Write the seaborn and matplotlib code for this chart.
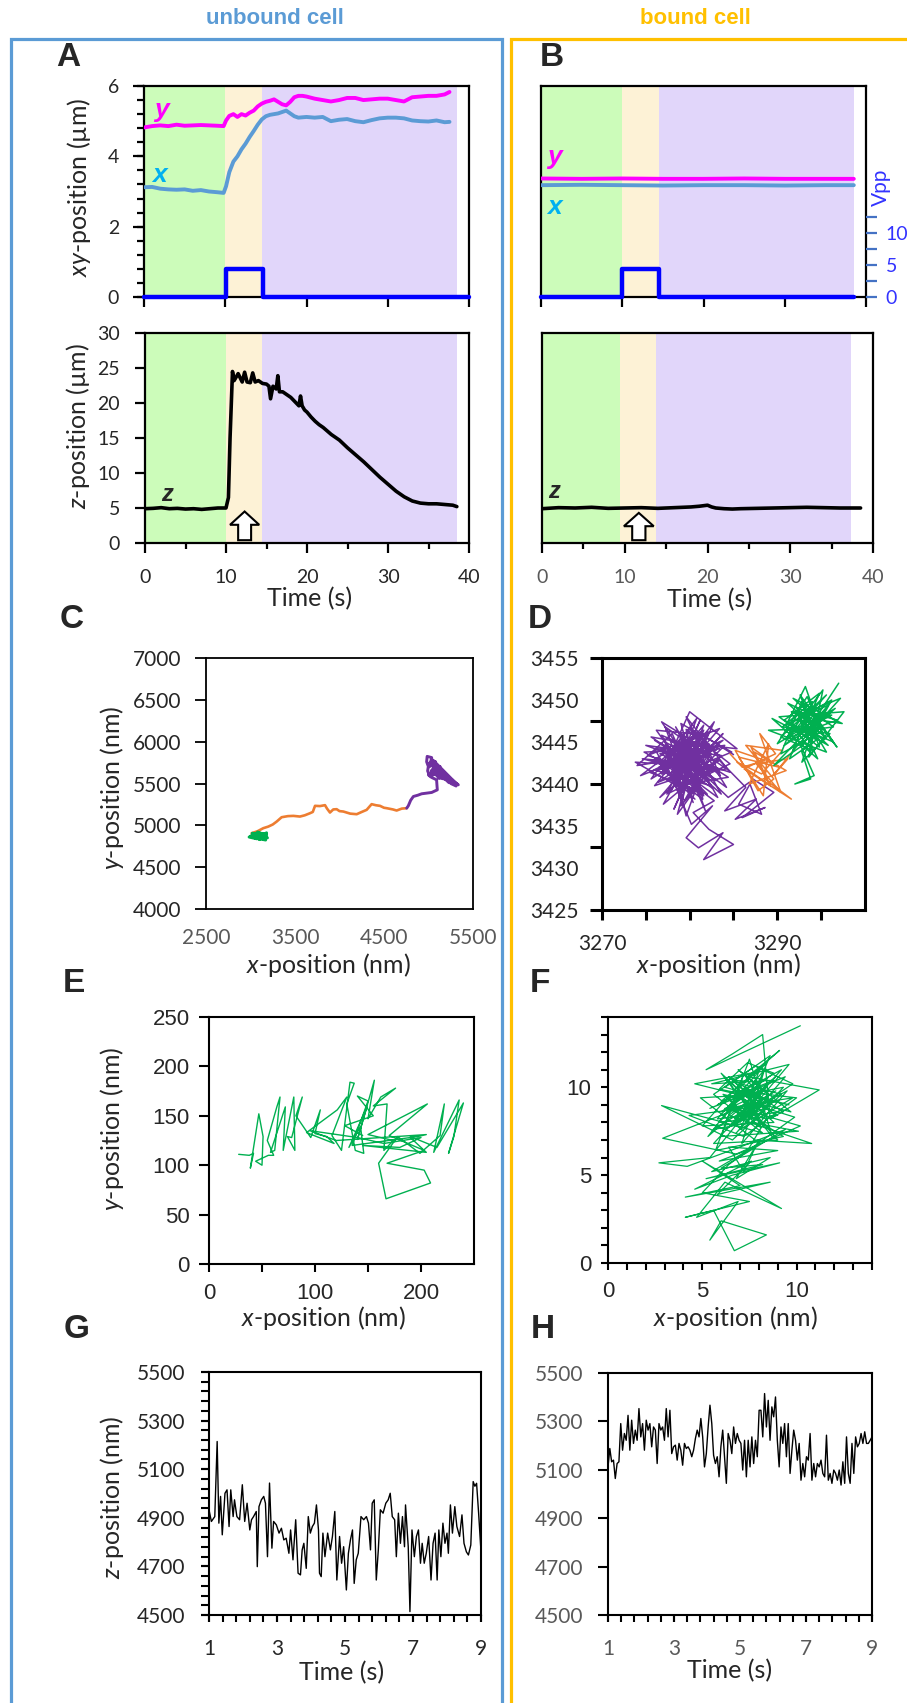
import numpy as np
import matplotlib
matplotlib.use("Agg")
import matplotlib.pyplot as plt
import seaborn as sns
from matplotlib.lines import Line2D
from matplotlib.patches import FancyArrow
from matplotlib.ticker import MultipleLocator, FixedLocator

# ---------------- data ----------------
# Panel A: unbound cell, xy traces (µm) vs time (s)
a_t = [0.0, 1, 2, 3, 4, 5, 6, 7, 8, 9, 9.8, 10.1, 10.5, 11, 11.5, 12, 12.5, 13, 13.5, 14,
       14.5, 15, 15.5, 16, 16.5, 17, 17.5, 18, 18.5, 19, 19.5, 20, 21, 22, 23, 24, 25, 26, 27, 28,
       29, 30, 31, 32, 33, 34, 35, 36, 37, 37.6]
a_y = [4.82, 4.86, 4.88, 4.86, 4.90, 4.87, 4.88, 4.89, 4.88, 4.87,
       4.86, 5.02, 5.15, 5.20, 5.12, 5.20, 5.16, 5.24, 5.30, 5.42,
       5.50, 5.55, 5.58, 5.62, 5.55, 5.48, 5.45, 5.55, 5.68, 5.72,
       5.72, 5.70, 5.64, 5.60, 5.56, 5.60, 5.66, 5.66, 5.60, 5.62,
       5.64, 5.64, 5.60, 5.56, 5.68, 5.70, 5.72, 5.72, 5.76, 5.83]
a_x = [3.12, 3.13, 3.08, 3.06, 3.05, 3.06, 3.02, 3.04, 3.00, 2.98,
       2.96, 3.15, 3.55, 3.85, 4.00, 4.20, 4.36, 4.55, 4.72, 4.90,
       5.05, 5.14, 5.18, 5.20, 5.22, 5.26, 5.30, 5.22, 5.14, 5.10,
       5.11, 5.12, 5.10, 5.12, 5.00, 5.04, 5.06, 5.00, 4.97, 5.03,
       5.08, 5.10, 5.10, 5.08, 5.02, 5.00, 4.99, 5.02, 4.97, 4.98]
a_pulse_t = [0, 10.1, 10.1, 14.6, 14.6, 40]
a_pulse_v = [0, 0, 4.4, 4.4, 0, 0]
a_phases = [0, 10, 14.5, 38.5]
a_zt = [0, 1, 2, 3, 4, 5, 6, 7, 8, 9, 10, 10.3, 10.5, 10.8, 11, 11.5, 12, 12.3, 12.6, 13,
        13.3, 13.6, 14, 14.5, 15, 15.3, 15.5, 15.8, 16.2, 16.4, 16.6, 17, 17.5, 18, 18.5, 19, 19.2, 19.4, 19.7, 20,
        20.5, 21, 21.5, 22, 22.5, 23, 23.5, 24, 25, 26, 27, 28, 29, 30, 31, 32, 33, 34, 35, 36,
        37, 38, 38.5]
a_z = [4.9, 4.95, 5.05, 4.9, 4.95, 4.85, 4.9, 4.8, 4.9, 5.0,
       5.0, 6.5, 15.0, 24.5, 23.2, 24.2, 23.0, 24.4, 23.0, 22.9,
       24.3, 23.0, 23.2, 22.8, 22.7, 22.4, 20.6, 22.4, 22.0, 23.9,
       21.6, 21.6, 21.2, 20.8, 20.2, 19.6, 21.0, 19.6, 19.0, 18.7,
       18.0, 17.4, 16.9, 16.5, 16.0, 15.5, 15.1, 14.7, 13.6, 12.6,
       11.6, 10.5, 9.4, 8.4, 7.4, 6.6, 6.0, 5.7, 5.6, 5.6,
       5.5, 5.4, 5.2]

# Panel B: bound cell
b_t = [0, 5, 10, 15, 20, 25, 30, 35, 38.5]
b_y = [3.37, 3.36, 3.37, 3.36, 3.36, 3.37, 3.36, 3.36, 3.36]
b_x = [3.18, 3.19, 3.18, 3.17, 3.18, 3.18, 3.17, 3.18, 3.18]
b_pulse_t = [0, 10, 10, 14.5, 14.5, 38.5]
b_pulse_v = [0, 0, 4.4, 4.4, 0, 0]
b_phases_top = [0, 10, 14.5, 38.5]
b_phases_bot = [0, 9.4, 13.8, 37.3]
b_zt = [0, 2, 4, 6, 8, 10, 12, 14, 16, 18, 19, 20, 20.5, 21, 22, 23, 24, 26, 28, 30, 32, 34, 36, 38.5]
b_z = [4.9, 5.05, 5.0, 5.1, 4.95, 5.0, 5.05, 4.95, 5.05, 5.15, 5.25, 5.4, 5.15, 5.0, 4.9, 4.85,
       4.9, 4.95, 5.0, 5.05, 5.1, 5.05, 5.0, 5.0]

# Panel C: unbound xy trajectory (nm)
c_green = [(3000, 4870), (3060, 4905), (3120, 4850), (3180, 4910), (3100, 4830), (3040, 4880),
           (3160, 4870), (3080, 4920), (3190, 4850), (3130, 4895), (2985, 4860), (3070, 4840),
           (3150, 4900), (3110, 4870), (3050, 4850), (3170, 4825), (3090, 4890), (3020, 4905),
           (3140, 4840), (3060, 4870), (3180, 4885), (3100, 4910)]
c_orange = [(3013, 4906), (3080, 4930), (3144, 4966), (3200, 4985), (3250, 5010), (3294, 5045),
            (3350, 5097), (3420, 5110), (3481, 5113), (3556, 5105), (3610, 5120), (3669, 5145),
            (3700, 5160), (3725, 5233), (3780, 5230), (3837, 5241), (3860, 5200), (3893, 5153),
            (3930, 5190), (3968, 5193), (4000, 5170), (4043, 5165), (4120, 5140), (4193, 5133),
            (4250, 5160), (4305, 5185), (4361, 5253), (4410, 5240), (4455, 5233), (4500, 5210),
            (4530, 5205), (4600, 5190), (4642, 5177), (4700, 5200), (4755, 5205)]
c_purple = [(4755, 5205), (4773, 5233), (4800, 5300), (4830, 5345), (4880, 5360), (4923, 5377),
            (4980, 5385), (5036, 5393), (5070, 5410), (5099, 5424), (5095, 5480), (5091, 5544),
            (5040, 5570), (5017, 5584), (4990, 5650), (4998, 5704), (4979, 5760), (4985, 5824),
            (5036, 5810), (5010, 5700), (5080, 5760), (5060, 5620), (5129, 5704), (5100, 5600),
            (5160, 5650), (5204, 5584), (5150, 5560), (5250, 5540), (5300, 5500), (5335, 5484),
            (5280, 5530), (5200, 5600), (5120, 5560), (5050, 5650), (5000, 5600), (5100, 5680),
            (5180, 5620), (5240, 5520), (5320, 5490), (5050, 5780), (5020, 5720), (5070, 5700),
            (5030, 5650), (5090, 5640), (5040, 5600), (5110, 5620), (5150, 5580), (5090, 5700),
            (5060, 5760), (5000, 5740), (5120, 5660), (5180, 5560), (5230, 5510), (5270, 5540),
            (5310, 5470), (5250, 5500)]

# Panel D: bound xy trajectory (nm)
d_green = [(3297.0, 3452.0), (3293.2, 3446.0), (3295.8, 3449.4), (3291.4, 3447.2), (3296.4, 3445.0),
           (3292.6, 3450.6), (3294.8, 3444.4), (3290.2, 3448.0), (3297.6, 3448.6), (3293.6, 3443.2),
           (3295.2, 3451.2), (3291.0, 3445.4), (3296.8, 3447.6), (3292.2, 3449.0), (3294.4, 3446.6),
           (3289.0, 3446.4), (3295.6, 3443.8), (3293.0, 3448.4), (3297.2, 3450.2), (3291.8, 3444.0),
           (3294.0, 3449.8), (3290.6, 3446.8), (3296.0, 3446.0), (3292.8, 3442.6), (3294.6, 3448.0),
           (3291.2, 3449.6), (3295.4, 3445.6), (3293.4, 3450.4), (3290.0, 3444.8), (3296.6, 3449.0),
           (3292.4, 3445.2), (3294.2, 3441.0), (3292.0, 3440.0), (3293.8, 3440.6), (3292.8, 3443.8),
           (3295.0, 3447.0), (3291.6, 3448.6), (3296.2, 3448.2), (3293.0, 3446.4), (3294.8, 3450.8),
           (3290.8, 3447.6), (3295.8, 3444.6), (3292.6, 3447.8), (3294.4, 3445.2), (3291.4, 3443.0),
           (3293.6, 3448.8), (3296.4, 3446.8), (3292.2, 3446.2), (3294.0, 3444.0), (3290.4, 3445.6),
           (3295.6, 3450.6), (3291.6, 3446.0), (3294.2, 3448.2), (3296.8, 3444.4), (3292.8, 3449.8),
           (3290.4, 3443.6), (3295.0, 3446.2), (3293.2, 3451.6), (3291.0, 3447.0), (3296.2, 3450.0),
           (3293.8, 3445.4), (3289.4, 3447.8), (3294.6, 3443.0), (3292.4, 3448.0), (3297.4, 3447.2),
           (3291.8, 3450.2), (3294.8, 3447.4), (3290.8, 3444.6), (3295.4, 3448.8), (3293.0, 3444.8),
           (3292.6, 3444.4), (3289.6, 3442.2), (3292.0, 3444.8)]
d_orange = [(3292.0, 3444.2), (3289.5, 3441.0), (3291.2, 3443.0), (3287.6, 3442.4), (3290.4, 3439.0),
            (3288.0, 3446.0), (3289.8, 3443.6), (3286.2, 3441.8), (3291.6, 3438.2), (3288.8, 3440.4),
            (3287.0, 3444.4), (3290.2, 3442.0), (3285.6, 3443.2), (3288.4, 3438.6), (3289.0, 3444.8),
            (3286.8, 3440.0), (3291.0, 3441.6), (3287.4, 3443.8), (3289.2, 3439.8), (3285.4, 3442.6),
            (3288.2, 3441.2), (3290.6, 3444.0), (3286.4, 3444.6), (3289.6, 3440.6), (3287.8, 3439.2),
            (3285.2, 3444.0), (3288.6, 3442.8), (3286.0, 3442.0), (3284.6, 3443.6)]
d_purple = [(3285.0, 3443.5), (3281.2, 3446.0), (3283.5, 3441.0), (3279.0, 3444.8), (3282.6, 3439.5),
            (3277.4, 3443.2), (3280.8, 3447.8), (3278.2, 3440.6), (3283.8, 3445.2), (3276.5, 3442.0),
            (3281.5, 3438.2), (3279.6, 3446.5), (3284.6, 3442.4), (3277.8, 3439.0), (3280.2, 3444.0),
            (3274.8, 3443.8), (3278.6, 3441.6), (3282.0, 3445.8), (3276.2, 3446.4), (3280.6, 3440.0),
            (3283.2, 3443.0), (3277.0, 3437.6), (3279.8, 3442.8), (3281.8, 3436.8), (3278.4, 3445.0),
            (3285.4, 3444.2), (3280.0, 3448.6), (3276.8, 3441.2), (3282.4, 3442.0), (3273.8, 3442.6),
            (3279.2, 3439.4), (3281.0, 3444.6), (3275.6, 3445.6), (3283.0, 3440.4), (3278.0, 3443.6),
            (3280.4, 3437.8), (3277.2, 3446.8), (3284.2, 3441.8), (3279.4, 3441.0), (3276.0, 3439.8),
            (3281.6, 3447.0), (3278.8, 3438.6), (3282.8, 3444.4), (3274.4, 3441.0), (3280.0, 3445.4),
            (3283.6, 3438.8), (3277.6, 3444.4), (3279.6, 3436.2), (3281.4, 3441.4), (3275.2, 3443.4),
            (3282.2, 3446.2), (3278.2, 3437.0), (3280.8, 3443.4), (3276.4, 3440.2), (3284.8, 3443.8),
            (3279.0, 3447.2), (3281.2, 3439.0), (3277.4, 3442.2), (3280.2, 3435.2), (3282.6, 3437.4),
            (3279.6, 3433.6), (3281.0, 3432.4), (3283.8, 3434.2), (3281.6, 3431.0), (3285.0, 3432.8),
            (3282.2, 3434.6), (3280.4, 3436.6), (3282.8, 3438.0), (3279.8, 3440.4), (3283.4, 3442.8),
            (3286.4, 3439.6), (3284.0, 3436.8), (3287.6, 3438.2), (3285.2, 3435.8), (3288.6, 3437.2),
            (3286.0, 3436.0), (3289.6, 3439.0), (3287.2, 3440.6), (3285.6, 3437.6), (3288.2, 3436.4),
            (3286.8, 3440.2), (3284.4, 3438.4), (3282.0, 3440.8), (3278.6, 3443.0), (3281.8, 3445.0),
            (3277.0, 3441.8), (3280.6, 3446.0), (3283.0, 3444.0), (3276.0, 3444.2), (3279.4, 3438.0),
            (3282.4, 3443.6), (3274.0, 3442.2), (3278.0, 3446.0), (3280.0, 3441.4), (3276.6, 3438.4),
            (3283.4, 3446.6), (3279.2, 3444.8), (3281.4, 3442.6), (3277.8, 3445.2), (3284.4, 3440.8),
            (3278.4, 3439.8), (3280.8, 3444.2), (3275.4, 3441.4), (3282.0, 3438.8), (3279.0, 3442.0),
            (3276.8, 3445.8), (3281.2, 3443.8), (3278.6, 3441.2), (3277.2, 3445.0), (3283.0, 3441.6),
            (3275.8, 3442.8), (3281.6, 3446.4), (3278.8, 3439.2), (3284.0, 3444.6), (3276.6, 3443.6),
            (3280.4, 3441.8), (3282.8, 3447.4), (3277.6, 3440.4), (3281.0, 3445.6), (3279.0, 3437.4),
            (3283.6, 3443.4), (3275.0, 3444.6), (3280.6, 3442.4), (3278.4, 3446.8), (3282.4, 3439.8),
            (3276.2, 3441.6), (3281.8, 3443.2), (3279.6, 3448.0), (3284.6, 3441.4), (3277.0, 3444.0),
            (3280.2, 3439.0), (3282.2, 3444.8), (3275.6, 3440.6), (3279.2, 3445.8), (3283.2, 3438.4),
            (3278.0, 3442.4), (3281.4, 3440.2), (3276.8, 3447.4), (3280.8, 3444.8), (3278.6, 3436.4),
            (3282.6, 3442.2), (3274.6, 3443.0), (3279.8, 3441.6), (3283.8, 3446.0), (3277.4, 3438.8),
            (3281.2, 3447.6), (3279.4, 3443.4), (3276.0, 3445.2), (3282.0, 3441.2), (3278.2, 3444.2),
            (3284.2, 3439.6), (3280.0, 3446.6), (3277.8, 3441.0), (3281.6, 3438.6), (3279.0, 3445.4),
            (3283.4, 3444.2), (3276.4, 3442.6), (3280.6, 3438.2)]

# Panel E: unbound, first seconds (nm)
e_path = [(28, 111), (38, 110), (42, 112), (39, 97), (47, 152), (51, 129), (50, 100), (44, 104), (56, 110), (61, 110),
          (55, 125), (64, 159), (67, 169), (62, 115), (58, 113), (72, 159), (70, 115), (80, 169), (81, 115), (74, 129),
          (78, 128), (88, 169), (82, 150), (96, 128), (105, 156), (100, 132), (111, 129), (118, 122), (92, 133), (121, 156),
          (130, 169), (116, 130), (125, 115), (133, 184), (137, 183), (130, 162), (138, 115), (146, 112), (143, 139), (132, 118),
          (149, 159), (140, 126), (156, 186), (150, 147), (162, 169), (176, 178), (155, 160), (168, 162), (165, 115), (174, 125),
          (150, 131), (206, 162), (170, 130), (203, 115), (168, 102), (203, 95), (209, 82), (167, 66), (160, 102), (178, 129),
          (199, 112), (218, 130), (222, 162), (212, 113), (236, 166), (231, 129), (226, 112), (240, 163), (215, 118), (190, 129),
          (197, 129), (205, 131), (120, 125), (95, 135), (140, 128), (165, 122), (200, 128), (180, 118), (145, 120), (205, 113),
          (190, 128), (135, 120), (150, 165), (140, 170), (155, 150), (128, 140), (145, 130)]

# Panel F: bound, first seconds (nm)
f_path = [(10.2, 13.5), (5.2, 11.0), (6.6, 11.9), (8.2, 13.0), (8.6, 8.2), (11.2, 9.85), (7.4, 10.6), (9.1, 12.1), (6.0, 9.2), (8.8, 10.4),
          (5.5, 10.2), (9.6, 11.3), (7.0, 8.0), (8.0, 10.9), (4.6, 10.2), (7.6, 9.4), (6.4, 10.6), (9.3, 8.6), (5.8, 8.2), (8.4, 11.4),
          (6.8, 9.8), (10.0, 9.4), (7.2, 7.2), (4.3, 8.4), (8.6, 9.0), (6.2, 7.6), (9.8, 10.2), (7.8, 11.2), (5.6, 9.6), (8.2, 7.4),
          (2.84, 8.96), (6.6, 7.0), (9.2, 9.6), (7.0, 10.2), (5.0, 7.8), (8.8, 8.0), (6.0, 10.8), (7.6, 8.6), (10.2, 7.8), (6.8, 6.2),
          (2.9, 7.1), (7.4, 9.0), (9.0, 7.0), (5.6, 6.8), (8.0, 9.6), (4.9, 9.4), (7.8, 7.0), (10.8, 6.8), (6.4, 8.4), (8.4, 10.0),
          (5.4, 6.0), (2.7, 5.7), (4.2, 5.5), (7.0, 6.6), (9.4, 7.6), (6.0, 5.4), (8.2, 5.6), (5.2, 4.8), (9.1, 5.7), (6.6, 5.0),
          (4.6, 4.2), (7.6, 5.8), (5.8, 3.9), (8.6, 4.6), (4.1, 3.75), (7.0, 4.4), (5.0, 5.8), (9.2, 3.1), (6.2, 4.6), (4.7, 2.6),
          (6.9, 3.5), (5.4, 1.3), (6.0, 2.4), (8.4, 1.6), (6.7, 0.7), (5.6, 3.0), (4.1, 2.6), (7.5, 3.5), (5.0, 4.0), (6.4, 5.6),
          (9.9, 8.3), (7.2, 9.2), (6.0, 8.6), (8.8, 10.8), (7.4, 11.4), (5.9, 9.9), (9.0, 9.2), (6.6, 8.8), (8.0, 8.4), (7.0, 9.6),
          (9.6, 9.0), (6.2, 10.0), (8.6, 11.8), (7.8, 9.8), (5.4, 8.8), (9.4, 10.6), (6.8, 7.4), (8.2, 9.0), (7.2, 10.8), (6.0, 7.2),
          (10.1, 7.5), (7.6, 8.0), (5.6, 7.6), (8.9, 9.8), (7.0, 8.4), (6.4, 9.4), (9.3, 10.0), (7.4, 7.8), (8.4, 8.8), (6.6, 10.4),
          (7.9, 10.3), (5.8, 9.0), (9.2, 11.0), (6.5, 7.8), (8.5, 9.6), (6.9, 11.0), (9.7, 8.6), (6.1, 9.6), (8.1, 7.7), (7.3, 10.0),
          (5.3, 7.2), (8.9, 10.6), (6.7, 8.2), (9.5, 9.8), (7.1, 6.8), (8.3, 11.0), (5.9, 8.0), (9.0, 8.4), (7.7, 9.2), (6.3, 10.4),
          (8.7, 7.2), (7.5, 11.6), (5.7, 6.4), (9.3, 7.2), (6.6, 9.0), (8.0, 10.0), (7.0, 7.6), (9.8, 9.4), (6.2, 8.8), (8.4, 8.2),
          (7.4, 6.4), (5.5, 5.2), (8.6, 6.0), (6.8, 4.8), (7.8, 6.6), (5.9, 5.8), (9.0, 6.4), (6.4, 6.6), (7.2, 5.2), (8.0, 7.0)]

# Panel G: unbound z (nm) vs time (s)
g_pts = [(1.00, 4933), (1.07, 4885), (1.17, 4905), (1.24, 5214), (1.29, 4878), (1.34, 4988), (1.39, 4830), (1.47, 5001), (1.53, 5015), (1.59, 4864),
         (1.64, 5015), (1.71, 4905), (1.75, 4974), (1.82, 4905), (1.90, 4892), (1.98, 5036), (2.05, 4885), (2.12, 4960), (2.20, 4850), (2.25, 4892),
         (2.31, 4905), (2.39, 4926), (2.42, 4699), (2.47, 4946), (2.54, 4974), (2.61, 4988), (2.66, 4960), (2.72, 4740), (2.78, 5043), (2.85, 4775),
         (2.90, 4885), (2.98, 4871), (3.06, 4837), (3.13, 4857), (3.20, 4809), (3.27, 4816), (3.35, 4754), (3.40, 4850), (3.47, 4727), (3.55, 4892),
         (3.62, 4672), (3.69, 4665), (3.74, 4768), (3.79, 4795), (3.86, 4692), (3.92, 4905), (3.98, 4837), (4.04, 4864), (4.10, 4878), (4.16, 4953),
         (4.22, 4850), (4.25, 4672), (4.30, 4658), (4.35, 4837), (4.41, 4740), (4.49, 4837), (4.57, 4768), (4.63, 4823), (4.70, 4926), (4.76, 4644),
         (4.84, 4823), (4.90, 4713), (4.96, 4781), (5.04, 4603), (5.10, 4754), (5.16, 4809), (5.22, 4850), (5.27, 4630), (5.33, 4727), (5.39, 4754),
         (5.47, 4905), (5.55, 4892), (5.63, 4905), (5.69, 4878), (5.75, 4768), (5.80, 4960), (5.86, 4974), (5.92, 4644), (5.98, 4768), (6.04, 4933),
         (6.12, 4919), (6.20, 4960), (6.27, 4974), (6.33, 5001), (6.39, 4905), (6.46, 4892), (6.51, 4740), (6.57, 4919), (6.63, 4795), (6.69, 4905),
         (6.75, 4781), (6.78, 4953), (6.86, 4781), (6.91, 4514), (6.97, 4850), (7.04, 4740), (7.10, 4823), (7.16, 4850), (7.22, 4713), (7.27, 4795),
         (7.33, 4713), (7.39, 4754), (7.46, 4823), (7.53, 4644), (7.59, 4795), (7.65, 4837), (7.71, 4644), (7.76, 4850), (7.82, 4740), (7.88, 4878),
         (7.94, 4795), (8.00, 4837), (8.04, 4754), (8.10, 4953), (8.16, 4837), (8.23, 4946), (8.29, 4864), (8.37, 4823), (8.44, 4912), (8.50, 4795),
         (8.57, 4760), (8.63, 4747), (8.70, 4788), (8.77, 5049), (8.82, 5030), (8.87, 5042), (8.93, 4919), (9.00, 4761)]

# Panel H: bound z (nm), evenly sampled from 1 s to 9 s
h_z = [5112, 5188, 5133, 5140, 5064, 5126, 5133, 5291, 5181, 5250,
       5222, 5325, 5181, 5305, 5209, 5264, 5222, 5353, 5236, 5291,
       5181, 5305, 5264, 5291, 5195, 5277, 5264, 5126, 5291, 5264,
       5277, 5222, 5353, 5236, 5346, 5167, 5195, 5202, 5140, 5209,
       5181, 5119, 5209, 5188, 5195, 5181, 5154, 5181, 5229, 5264,
       5236, 5312, 5236, 5112, 5167, 5277, 5367, 5291, 5160, 5126,
       5154, 5071, 5195, 5264, 5154, 5044, 5250, 5222, 5167, 5277,
       5209, 5250, 5222, 5209, 5099, 5222, 5071, 5222, 5112, 5236,
       5126, 5222, 5154, 5346, 5346, 5236, 5415, 5277, 5387, 5222,
       5360, 5319, 5401, 5222, 5112, 5277, 5209, 5291, 5154, 5291,
       5085, 5181, 5264, 5222, 5140, 5209, 5057, 5126, 5071, 5154,
       5140, 5250, 5057, 5126, 5071, 5126, 5112, 5140, 5085, 5071,
       5243, 5057, 5085, 5044, 5099, 5085, 5057, 5099, 5037, 5133,
       5044, 5236, 5085, 5044, 5209, 5085, 5236, 5195, 5209, 5250,
       5209, 5257, 5209, 5209, 5222, 5236]
h_t_range = (1, 9)

# ---------------- style ----------------
sns.set_theme(style="white")
plt.rcParams['font.family'] = ['Lato', 'DejaVu Sans']
plt.rcParams['mathtext.fontset'] = 'custom'
plt.rcParams['mathtext.rm'] = 'Lato'
plt.rcParams['mathtext.it'] = 'Lato:italic'
plt.rcParams['mathtext.bf'] = 'Lato:bold'
ARI = ['Liberation Sans', 'DejaVu Sans']

GREEN_BG, CREAM_BG, LAV_BG = '#CCFCBA', '#FDF2D6', '#E1D6FA'
MAG, XBLUE, PULSE = '#FF00FF', '#5B9BD5', '#0000FF'
CG, CO, CP = '#00B050', '#ED7D31', '#7030A0'
GRAY = '#595959'

W, H = 907, 1703
fig = plt.figure(figsize=(W / 100, H / 100), dpi=100)
fig.patch.set_facecolor('white')


def add_ax(l, t, r, b):
    ax = fig.add_axes([l / W, 1 - b / H, (r - l) / W, (b - t) / H])
    ax.set_facecolor('white')
    ax.grid(False)
    return ax


def ftext(x, y, s, **kw):
    kw.setdefault('ha', 'center')
    kw.setdefault('va', 'center')
    fig.text(x / W, 1 - y / H, s, **kw)


def fline(xs, ys, color, lw):
    fig.add_artist(Line2D([x / W for x in xs], [1 - y / H for y in ys], color=color, lw=lw,
                          solid_capstyle='butt', solid_joinstyle='miter'))


def setup(ax, lw=1.5):
    for s in ax.spines.values():
        s.set_visible(True)
        s.set_color('black')
        s.set_linewidth(lw)
    ax.tick_params(which='both', direction='out', color='black', width=lw,
                   top=False, right=False, bottom=False, left=False)
    ax.xaxis.remove_overlapping_locs = False
    ax.yaxis.remove_overlapping_locs = False


def line(ax, x, y, color, lw, **kw):
    sns.lineplot(x=np.asarray(x, float), y=np.asarray(y, float), ax=ax, color=color,
                 linewidth=lw, sort=False, estimator=None, **kw)
    ax.set_xlabel('')
    ax.set_ylabel('')


def path(ax, pts, color, lw):
    arr = np.asarray(pts, float)
    line(ax, arr[:, 0], arr[:, 1], color, lw)


def phases(ax, b):
    ax.axvspan(b[0], b[1], color=GREEN_BG, lw=0, zorder=0)
    ax.axvspan(b[1], b[2], color=CREAM_BG, lw=0, zorder=0)
    ax.axvspan(b[2], b[3], color=LAV_BG, lw=0, zorder=0)


def up_arrow(ax, x, y0, length):
    ax.add_patch(FancyArrow(x, y0, 0, length, width=1.6, head_width=3.6, head_length=1.9,
                            length_includes_head=True, fc='white', ec='black', lw=1.5, zorder=5))


lab_kw = dict(fontsize=18)
tl = 14

# ---------------- frames & titles ----------------
fline([11, 11, 502, 502], [1703, 39, 39, 1703], XBLUE, 2.3)
fline([511, 511, 907], [1703, 39, 39], '#FFC000', 2.3)
ftext(275, 18, 'unbound cell', color=XBLUE, fontsize=16, fontweight='bold', family=ARI)
ftext(695, 18, 'bound cell', color='#FFC000', fontsize=16, fontweight='bold', family=ARI)
for s, x, y in [('A', 68, 58), ('B', 552, 58), ('C', 72, 620), ('D', 540, 620),
                ('E', 74, 983), ('F', 540, 983), ('G', 77, 1330), ('H', 543, 1330)]:
    ftext(x, y, s, fontsize=24, fontweight='bold', family=ARI)

# ---------------- Panel A top ----------------
axA1 = add_ax(144, 86, 469, 297)
setup(axA1, 1.6)
phases(axA1, a_phases)
line(axA1, a_t, a_y, MAG, 2.8, zorder=3)
line(axA1, a_t, a_x, XBLUE, 2.8, zorder=3)
axA1.set_xlim(0, 40)
axA1.set_ylim(0, 6)
axA1.set_xticks([0, 10, 20, 30, 40], [''] * 5)
axA1.tick_params(axis='x', which='major', bottom=True, length=7)
axA1.set_yticks([0, 2, 4, 6], ['0', '2', '4', '6'], fontsize=tl)
axA1.yaxis.set_minor_locator(MultipleLocator(0.4))
axA1.tick_params(axis='y', which='major', left=True, length=8, pad=10)
axA1.tick_params(axis='y', which='minor', left=True, length=5)
axA1.text(2.2, 5.32, 'y', color=MAG, fontsize=19, fontweight='bold', fontstyle='italic',
          family=ARI, ha='center', va='center')
axA1.text(1.85, 3.47, 'x', color='#00B0F0', fontsize=19, fontweight='bold', fontstyle='italic',
          family=ARI, ha='center', va='center')
vA = axA1.twinx()
line(vA, a_pulse_t, a_pulse_v, PULSE, 3.2, clip_on=False, zorder=4)
vA.set_ylim(0, 33)
vA.set_yticks([])
for s in vA.spines.values():
    s.set_visible(False)
axA1.set_xlim(0, 40)
ftext(79, 187, r'$\mathit{xy}$-position (µm)', rotation=90, **lab_kw)

# ---------------- Panel A bottom ----------------
axA2 = add_ax(145, 333, 469, 543)
setup(axA2, 1.6)
phases(axA2, a_phases)
line(axA2, a_zt, a_z, 'black', 2.6, zorder=3)
axA2.set_xlim(0, 40)
axA2.set_ylim(0, 30)
axA2.set_xticks([0, 10, 20, 30, 40], ['0', '10', '20', '30', '40'], fontsize=tl)
axA2.xaxis.set_minor_locator(FixedLocator([5, 15, 25, 35]))
axA2.tick_params(axis='x', which='major', bottom=True, length=7, pad=12)
axA2.tick_params(axis='x', which='minor', bottom=True, length=4)
axA2.set_yticks(list(range(0, 31, 5)), [str(v) for v in range(0, 31, 5)], fontsize=tl)
axA2.tick_params(axis='y', which='major', left=True, length=7, pad=11)
up_arrow(axA2, 12.3, 0.4, 4.1)
axA2.text(2.7, 6.9, 'z', fontsize=17, fontweight='bold', fontstyle='italic', family=ARI,
          ha='center', va='center')
ftext(78, 426, r'$\mathit{z}$-position (µm)', rotation=90, **lab_kw)
ftext(310, 599, 'Time (s)', **lab_kw)

# ---------------- Panel B top ----------------
axB1 = add_ax(541, 86, 866, 297)
setup(axB1, 1.6)
phases(axB1, b_phases_top)
line(axB1, b_t, b_y, MAG, 2.8, zorder=3)
line(axB1, b_t, b_x, XBLUE, 2.8, zorder=3)
axB1.set_xlim(0, 40)
axB1.set_ylim(0, 6)
axB1.set_xticks([0, 10, 20, 30, 40], [''] * 5)
axB1.tick_params(axis='x', which='major', bottom=True, length=7)
axB1.set_yticks([])
axB1.text(1.7, 3.98, 'y', color=MAG, fontsize=19, fontweight='bold', fontstyle='italic',
          family=ARI, ha='center', va='center')
axB1.text(1.7, 2.56, 'x', color='#00B0F0', fontsize=19, fontweight='bold', fontstyle='italic',
          family=ARI, ha='center', va='center')
vB = axB1.twinx()
line(vB, b_pulse_t, b_pulse_v, PULSE, 3.2, clip_on=False, zorder=4)
vB.set_ylim(0, 33)
for s in vB.spines.values():
    s.set_visible(False)
vB.set_yticks([0, 5, 10], ['0', '5', '10'], fontsize=tl)
vB.yaxis.set_minor_locator(FixedLocator([2.5, 7.5, 12.5]))
vB.tick_params(axis='y', which='both', right=True, left=False, direction='out', length=8,
               width=1.6, color='#4472C4', labelcolor='#3333FF', pad=6)
axB1.set_xlim(0, 40)
ftext(881, 187, 'Vpp', rotation=90, color='#3333FF', fontsize=15)

# ---------------- Panel B bottom ----------------
axB2 = add_ax(542, 333, 873, 543)
setup(axB2, 1.6)
phases(axB2, b_phases_bot)
line(axB2, b_zt, b_z, 'black', 2.6, zorder=3)
axB2.set_xlim(0, 40)
axB2.set_ylim(0, 30)
axB2.set_xticks([0, 10, 20, 30, 40], ['0', '10', '20', '30', '40'], fontsize=tl, color=GRAY)
axB2.xaxis.set_minor_locator(FixedLocator([5, 15, 25, 35]))
axB2.tick_params(axis='x', which='major', bottom=True, length=7, pad=12)
axB2.tick_params(axis='x', which='minor', bottom=True, length=4)
axB2.set_yticks([])
up_arrow(axB2, 11.7, 0.4, 3.9)
axB2.text(1.5, 7.4, 'z', fontsize=17, fontweight='bold', fontstyle='italic', family=ARI,
          ha='center', va='center')
ftext(710, 600, 'Time (s)', **lab_kw)

# ---------------- Panel C ----------------
axC = add_ax(206, 658, 473, 909)
setup(axC, 1.3)
path(axC, c_orange, CO, 1.9)
path(axC, c_purple, CP, 2.1)
path(axC, c_green, CG, 2.2)
axC.set_xlim(2500, 5500)
axC.set_ylim(4000, 7000)
axC.set_xticks([2500, 3500, 4500, 5500], ['2500', '3500', '4500', '5500'], fontsize=15, color=GRAY)
axC.tick_params(axis='x', length=0, pad=14)
axC.set_yticks(list(range(4000, 7001, 500)), [str(v) for v in range(4000, 7001, 500)], fontsize=15)
axC.tick_params(axis='y', which='major', left=True, length=8, pad=10)
ftext(112, 788, r'$\mathit{y}$-position (nm)', rotation=90, **lab_kw)
ftext(328, 965, r'$\mathit{x}$-position (nm)', **lab_kw)

# ---------------- Panel D ----------------
axD = add_ax(602, 658, 865, 910)
setup(axD, 2.2)
path(axD, d_purple, CP, 1.1)
path(axD, d_orange, CO, 1.1)
path(axD, d_green, CG, 1.1)
axD.set_xlim(3270, 3300)
axD.set_ylim(3425, 3455)
axD.set_yticks(list(range(3425, 3456, 5)), [str(v) for v in range(3425, 3456, 5)], fontsize=15)
axD.tick_params(axis='y', which='major', length=0, pad=17)
axD.yaxis.set_minor_locator(FixedLocator([3425, 3432.5, 3440, 3447.5, 3455]))
axD.tick_params(axis='y', which='minor', left=True, length=9, width=2.2)
axD.set_xticks([3270, 3275, 3280, 3285, 3290, 3295], ['3270', '', '', '', '3290', ''], fontsize=15)
axD.tick_params(axis='x', which='major', bottom=True, length=7, width=2.2, pad=10)
ftext(718, 965, r'$\mathit{x}$-position (nm)', **lab_kw)

# ---------------- Panel E ----------------
axE = add_ax(209, 1017, 474, 1264)
setup(axE, 1.5)
path(axE, e_path, CG, 1.0)
axE.set_xlim(0, 250)
axE.set_ylim(0, 250)
axE.set_xticks([0, 50, 100, 150, 200], ['0', '', '100', '', '200'], fontsize=16, family=ARI)
axE.tick_params(axis='x', which='major', bottom=True, length=6, pad=8)
axE.set_yticks(list(range(0, 251, 50)), [str(v) for v in range(0, 251, 50)], fontsize=16, family=ARI)
axE.tick_params(axis='y', which='major', left=True, length=7, pad=7)
ftext(112, 1129, r'$\mathit{y}$-position (nm)', rotation=90, **lab_kw)
ftext(323, 1318, r'$\mathit{x}$-position (nm)', **lab_kw)

# ---------------- Panel F ----------------
axF = add_ax(608, 1017, 872, 1263)
setup(axF, 1.5)
path(axF, f_path, CG, 0.9)
axF.set_xlim(0, 14)
axF.set_ylim(0, 14)
f_lbl = [str(v) if v % 5 == 0 else '' for v in range(15)]
axF.set_xticks(list(range(15)), f_lbl, fontsize=16, family=ARI)
axF.set_yticks(list(range(15)), f_lbl, fontsize=16, family=ARI)
axF.tick_params(axis='x', which='major', bottom=True, length=5, pad=8)
axF.tick_params(axis='y', which='major', left=True, length=5, pad=7)
ftext(735, 1318, r'$\mathit{x}$-position (nm)', **lab_kw)

# ---------------- Panel G ----------------
axG = add_ax(209, 1372, 481, 1615)
setup(axG, 1.5)
gp = np.asarray(g_pts, float)
line(axG, gp[:, 0], gp[:, 1], 'black', 1.0)
axG.set_xlim(1, 9)
axG.set_ylim(4500, 5500)
axG.set_yticks(list(range(4500, 5501, 200)), [str(v) for v in range(4500, 5501, 200)], fontsize=15)
axG.yaxis.set_minor_locator(FixedLocator(np.arange(4500, 5501, 40)))
axG.tick_params(axis='y', which='both', left=True, length=6, pad=11)
axG.set_xticks([1, 3, 5, 7, 9], ['1', '3', '5', '7', '9'], fontsize=15)
axG.xaxis.set_minor_locator(FixedLocator(np.arange(1, 9.01, 0.4)))
axG.tick_params(axis='x', which='both', bottom=True, length=5, pad=12)
ftext(112, 1497, r'$\mathit{z}$-position (nm)', rotation=90, **lab_kw)
ftext(342, 1673, 'Time (s)', **lab_kw)

# ---------------- Panel H ----------------
axH = add_ax(608, 1373, 872, 1615)
setup(axH, 1.5)
h_t = np.linspace(h_t_range[0], h_t_range[1], len(h_z))
line(axH, h_t, h_z, 'black', 1.0)
axH.set_xlim(1, 9)
axH.set_ylim(4500, 5500)
axH.set_yticks(list(range(4500, 5501, 200)), [str(v) for v in range(4500, 5501, 200)],
               fontsize=15, color=GRAY)
axH.tick_params(axis='y', which='major', left=True, length=7, pad=11)
axH.set_xticks([1, 3, 5, 7, 9], ['1', '3', '5', '7', '9'], fontsize=15, color=GRAY)
axH.xaxis.set_minor_locator(FixedLocator(np.arange(1, 9.01, 0.4)))
axH.tick_params(axis='x', which='both', bottom=True, length=5, pad=12)
ftext(730, 1671, 'Time (s)', **lab_kw)

fig.savefig('out.png', dpi=100, facecolor='white')
